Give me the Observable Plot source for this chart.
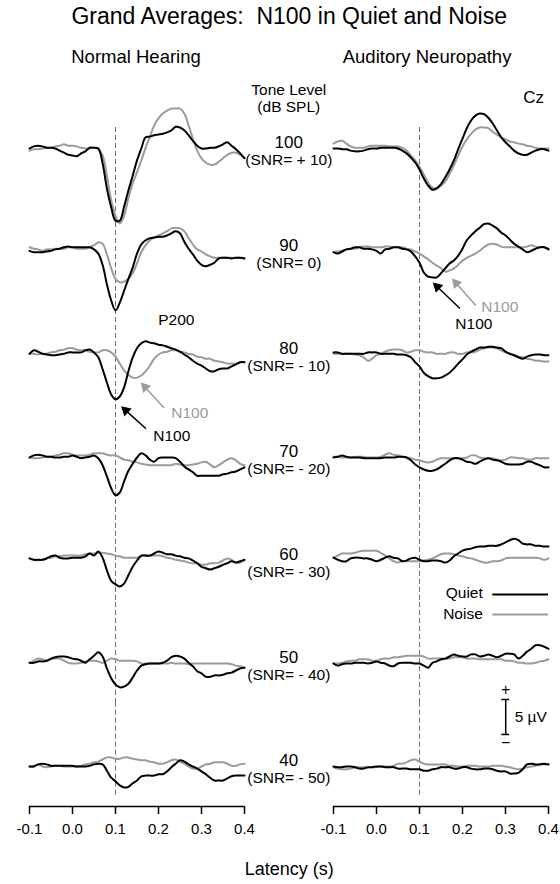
<!DOCTYPE html>
<html>
<head>
<meta charset="utf-8">
<script src="https://cdn.jsdelivr.net/npm/d3@7"></script>
<script src="https://cdn.jsdelivr.net/npm/@observablehq/plot@0.6"></script>
<style>
  body { margin: 0; background: #fff; }
  #chart svg { display: block; }
</style>
</head>
<body>
<div id="chart"></div>
<script>
// ---------- data ----------
const groupKeys = ["NH", "AN"];
const groupTitles = ["Normal Hearing", "Auditory Neuropathy"];
const levels = [100, 90, 80, 70, 60, 50, 40];
const snrLabels = ["(SNR= + 10)", "(SNR= 0)", "(SNR= - 10)", "(SNR= - 20)", "(SNR= - 30)", "(SNR= - 40)", "(SNR= - 50)"];
const xTicks = [-0.1, 0.0, 0.1, 0.2, 0.3, 0.4];
// sampling grid: -0.1 s to 0.4 s every 10 ms
const latency = d3.range(51).map(k => Math.round((-0.1 + k * 0.01) * 100) / 100);

// amplitudes in µV (negative = down), Normal Hearing
const nhQuiet100 = [0,0.3,0.4,0.3,0.1,0.1,0,-0.3,-0.6,-0.9,-1.0,-1.1,-0.7,-0.4,0.1,0.1,0,-2.1,-5.7,-8.4,-10.3,-10.3,-8.3,-6.0,-3.9,-1.7,0,1.6,1.7,1.9,2.0,2.1,2.3,2.6,3.1,3.0,2.6,1.9,1.1,0.4,0,0,0.1,0.1,0.3,0.6,0.9,0.4,-0.1,-0.7,-1.4];
const nhNoise100 = [-0.3,-0.1,-0.1,0,0.1,0.1,0.3,0.4,0.6,0.4,0.4,0.3,0.1,0,0,0.1,-0.1,-1.0,-3.9,-7.4,-9.6,-10.7,-9.6,-7.1,-5.0,-3.4,-1.7,0.1,1.7,3.3,4.3,5.0,5.4,5.7,5.7,5.7,5.0,3.3,1.4,-0.3,-1.4,-2.0,-2.3,-2.3,-1.9,-1.4,-0.9,-0.6,-0.6,-0.9,-1.3];
const nhQuiet90 = [0.1,-0.1,-0.1,-0.1,0,0.1,0.3,0.4,0.6,0.7,0.6,0.6,0.6,0.6,0.6,0.3,-0.3,-1.9,-4.7,-7.0,-8.4,-7.3,-5.6,-3.9,-2.3,-0.3,1.0,1.6,1.9,2.0,2.1,2.1,2.3,2.6,2.9,2.6,1.4,0.4,-0.4,-1.3,-1.9,-2.1,-1.9,-1.6,-1.0,-0.9,-0.9,-1.0,-0.9,-0.9,-1.0];
const nhNoise90 = [0.6,0.4,0.3,0.1,0.3,0.3,0.4,0.4,0.4,0.6,0.6,0.4,0.4,0.4,0.6,0.9,1.3,1.1,-0.4,-2.4,-3.9,-4.4,-4.3,-3.9,-3.1,-1.7,-0.1,0.9,1.6,2.0,2.3,2.6,2.9,3.3,3.4,3.3,2.9,1.9,1.0,0.3,0,-0.4,-0.7,-0.9,-0.9,-0.9,-0.9,-0.9,-0.9,-0.9,-1.0];
const nhQuiet80 = [0.1,0.6,0.4,0.1,0,-0.1,-0.1,0,0.1,0.3,0.3,0.3,0.3,0.6,0.7,0.3,-0.4,-2.1,-4.0,-5.7,-6.4,-6.0,-4.7,-2.4,-0.4,0.9,1.6,1.9,1.7,1.6,1.4,1.3,1.1,0.9,0.7,0.4,0,-0.4,-0.9,-1.3,-1.6,-2.0,-2.4,-2.4,-2.1,-2.0,-2.0,-1.7,-1.4,-1.1,-1.1];
const nhNoise80 = [0.1,0.1,0,0.1,0.1,0.3,0.4,0.6,0.7,0.9,0.9,0.7,0.6,0.6,0.4,0.3,0.3,0.6,0.6,0.3,-0.3,-1.3,-2.3,-2.9,-3.3,-3.3,-3.0,-2.4,-1.6,-0.6,0,0.3,0.4,0.6,0.6,0.4,0.3,0.1,0,-0.3,-0.4,-0.6,-0.6,-0.9,-1.0,-1.1,-1.3,-1.3,-1.3,-1.1,-1.1];
const nhQuiet70 = [0,0.3,0.4,0.3,0.1,0.1,0,0,0.1,0.1,0.3,0.1,-0.1,0,0.1,0.3,-0.1,-1.1,-2.7,-4.4,-5.4,-5.0,-3.4,-1.9,-0.9,0,0.6,0.3,-0.3,-0.6,-0.1,0,0,0,-0.1,-0.6,-1.3,-1.7,-2.1,-2.6,-2.6,-2.6,-2.6,-2.6,-2.6,-2.4,-2.3,-2.1,-2.0,-1.7,-1.4];
const nhNoise70 = [0,-0.1,-0.1,0,0.1,0.1,0.3,0.4,0.6,0.6,0.4,0.3,0.3,0.3,0.4,0.6,0.6,0.6,0.4,0.3,0.3,0,-0.3,-0.4,-0.6,-0.7,-0.9,-1.0,-1.1,-1.1,-1.1,-1.1,-1.1,-1.1,-0.9,-1.0,-1.1,-1.1,-1.0,-0.9,-0.7,-0.6,-1.0,-1.4,-1.1,-0.7,-0.3,-0.1,-0.4,-0.9,-1.1];
const nhQuiet60 = [0.3,0.1,0.1,0.1,0.3,0.6,0.7,0.4,0.3,0.3,0.4,0.4,0.4,0.6,1.0,0.7,1.3,0.4,-1.4,-2.9,-3.4,-3.7,-3.3,-2.1,-0.9,0,0.7,0.7,0.7,1.0,1.3,1.1,0.9,0.9,0.7,0.6,0.4,0.3,0,-0.4,-0.9,-1.1,-1.3,-1.1,-0.9,-0.6,-0.4,-0.1,-0.3,-0.1,0.1];
const nhNoise60 = [0.3,0.1,0,0.1,0.3,0.4,0.6,0.6,0.7,0.7,0.7,0.7,0.7,0.9,1.0,1.0,1.1,1.1,1.0,0.9,0.7,0.6,0.4,0.4,0.4,0.4,0.6,0.7,0.7,0.7,0.7,0.6,0.4,0.3,0.1,0,-0.1,-0.3,-0.4,-0.4,-0.6,-0.6,-0.4,-0.4,-0.3,0,0.3,0.1,-0.3,-0.3,0];
const nhQuiet50 = [0.1,0.1,0.3,0.3,0.4,0.7,0.9,1.0,1.0,0.9,0.7,0.6,0.4,0.1,0.6,1.1,1.6,1.0,-0.7,-2.1,-3.0,-3.4,-3.3,-2.9,-2.0,-1.0,-0.3,-0.1,0,0,0,0.1,0.4,0.9,1.1,1.0,0.7,0.1,-0.4,-1.1,-1.4,-1.9,-1.9,-1.7,-1.7,-1.6,-1.4,-1.3,-1.0,-0.7,-0.6];
const nhNoise50 = [0.1,0.4,0.7,0.6,0.4,0.6,0.7,0.7,0.4,0.1,0,0,0.1,0.3,0.4,0.4,0.3,0.1,0.4,0.7,0.6,0.4,0.4,0.4,0.4,0.3,0,0,0,0,0,0,0,0.1,0,0,0,-0.1,0,0,0,0,0,0,0,0,0,-0.1,-0.3,-0.4,-0.6];
const nhQuiet40 = [0,0,0.3,0.4,0.3,0.1,0.1,0.1,0.1,0.1,0.1,0,0,0,0.1,0.3,0.4,0.3,-0.6,-1.6,-2.1,-2.7,-3.0,-2.9,-2.4,-2.0,-1.4,-1.3,-1.3,-1.3,-1.1,-1.1,-0.7,-0.1,0.4,0.9,0.7,0.3,0,-0.3,-0.7,-1.1,-1.6,-2.0,-2.0,-2.0,-1.7,-1.4,-1.3,-1.3,-1.3];
const nhNoise40 = [0,0.1,0.3,0,-0.1,0,0.1,0.1,0,0,0,0,0.1,0.3,0.4,0.6,0.7,1.0,1.3,1.3,1.1,1.1,1.3,1.3,1.1,1.0,0.9,0.9,0.7,0.6,0.4,0.4,0.6,0.9,1.0,0.7,0.4,0,-0.3,-0.3,0,0.3,0.4,0.6,0.6,0.6,0.4,0.1,0.1,0.3,0.4];

// Auditory Neuropathy
const anQuiet100 = [0,0,-0.1,-0.1,-0.3,-0.4,-0.4,-0.3,-0.1,0,0,0.1,0.1,0.1,0.1,0,-0.3,-0.7,-1.3,-2.0,-3.0,-4.3,-5.3,-5.9,-5.7,-5.1,-4.1,-3.0,-1.7,-0.1,1.4,2.9,4.0,4.7,5.0,4.9,4.4,3.6,2.6,1.6,0.9,0.3,-0.3,-0.7,-0.9,-0.9,-0.6,-0.3,-0.1,-0.1,-0.3];
const anNoise100 = [0.7,1.0,1.1,0.7,0.3,0.1,0.1,0.1,0.3,0.4,0.4,0.4,0.4,0.3,0.3,0.3,0.1,-0.3,-1.0,-1.7,-2.6,-3.7,-4.9,-5.6,-5.7,-5.3,-4.7,-3.6,-2.4,-1.0,0.3,1.3,2.1,2.7,3.0,3.0,2.9,2.4,2.0,1.6,1.3,1.0,0.9,0.7,0.6,0.4,0.3,0.1,0,0,0];
const anQuiet90 = [-0.1,-0.3,0,0.3,0.4,0.6,0.6,0.4,0.4,0.3,0.1,-0.3,0.3,0.4,0.6,0.6,0.4,0.3,0,-0.7,-1.6,-3.0,-3.6,-3.7,-3.7,-3.1,-2.4,-1.7,-1.3,-0.6,0.4,1.6,2.3,2.9,3.4,3.9,4.0,3.7,3.3,2.7,2.3,1.7,1.1,0.7,0.3,-0.1,0.1,0.4,0.6,0.6,0.3];
const anNoise90 = [-0.1,0,0.1,0.3,0.4,0.4,0.6,0.7,0.7,0.6,0.6,0.6,0.7,0.7,0.6,0.6,0.6,0.4,0.3,0,-0.3,-0.7,-1.1,-1.6,-2.0,-2.4,-2.9,-2.7,-2.4,-1.9,-1.3,-0.9,-0.6,-0.3,0.1,0.6,1.0,1.1,1.0,0.7,0.6,0.6,0.6,0.6,0.6,0.7,0.9,0.7,0.6,0.6,0.4];
const anQuiet80 = [0.3,0.3,0.1,0.1,0.1,0.1,0.1,0.1,0.3,0.3,0.3,0.1,0.1,0.1,0.1,0,0,-0.1,-0.4,-1.1,-1.7,-2.6,-3.1,-3.4,-3.4,-3.3,-3.0,-2.6,-2.0,-1.3,-0.7,0,0.4,0.7,1.0,1.0,1.1,1.1,1.0,0.9,0.4,0.1,-0.1,-0.4,-0.6,-0.3,-0.1,0,0,-0.1,-0.1];
const anNoise80 = [0.1,0.1,0.1,0.1,0.1,0,-0.1,-0.4,-0.9,-0.6,-0.1,0.1,0.4,0.6,0.7,0.7,0.6,0.3,0.4,0.6,0.6,0.4,0.3,0.3,0.1,0.1,0.1,0.3,0.3,0.1,0.1,0.3,0.3,0.4,0.7,0.9,1.0,1.0,0.9,0.6,0.3,0.1,-0.1,-0.3,-0.4,-0.6,-0.7,-0.9,-0.9,-1.0,-1.0];
const anQuiet70 = [0,0.1,0.3,0.1,0,0,0,-0.1,-0.1,-0.1,-0.1,-0.1,0,0,0,0.1,0.1,0,-0.4,-1.0,-1.4,-1.7,-1.9,-1.9,-1.7,-1.3,-0.9,-0.4,-0.1,-0.1,-0.3,-0.6,-0.7,-0.9,-0.6,-0.3,-0.1,-0.3,-0.4,-0.6,-0.9,-1.0,-1.0,-1.0,-0.9,-0.6,-0.6,-0.9,-1.1,-1.4,-1.4];
const anNoise70 = [0.1,0.1,0,0,0,0.1,0.1,0.1,0,0,0,0.1,0.4,0.6,0.4,0.3,0.1,0,-0.1,-0.3,-0.4,-0.6,-0.7,-0.6,-0.3,-0.1,-0.1,-0.1,-0.1,-0.1,-0.1,0,0.3,0.3,0,-0.1,-0.1,-0.1,-0.3,-0.4,-0.3,0,0,-0.1,-0.1,-0.3,-0.3,-0.1,-0.1,-0.1,-0.1];
const anQuiet60 = [0.4,0.1,-0.1,-0.1,0.3,0.4,0.4,0.3,0.3,0.1,-0.1,0.1,0.4,0.6,0.4,0.3,-0.1,0,0.3,0.4,0.1,-0.1,-0.1,0,0,-0.1,-0.3,0,0.6,1.0,1.4,1.6,1.7,1.9,2.0,2.0,2.1,2.1,2.1,2.3,2.6,2.9,3.1,2.9,2.4,2.3,2.3,2.1,2.1,2.0,2.0];
const anNoise60 = [0.4,0.7,1.0,1.0,1.0,1.1,1.3,1.4,1.4,1.4,1.4,1.1,0.7,0.3,-0.1,-0.3,-0.1,-0.1,-0.1,-0.1,-0.1,0,0.1,0.3,0.6,0.9,1.0,1.0,0.9,0.7,0.6,0.4,0.3,0.1,-0.1,-0.3,-0.3,-0.1,-0.1,0,0.3,0.4,0.4,0.4,0.4,0.4,0.4,0.4,0.3,0.1,0.3];
const anQuiet50 = [0,-0.3,-0.1,0,0,0.1,0.1,0.1,0,0.1,0.3,0.1,0,-0.3,-0.4,0,0.1,0.1,0.1,0,0,-0.3,-0.6,0.1,0.3,0.6,0.7,1.0,1.3,1.1,1.0,1.0,1.3,1.3,1.0,1.1,1.3,1.1,0.9,1.1,1.4,1.4,1.3,0.7,1.1,1.7,2.1,2.6,2.6,2.4,2.1];
const anNoise50 = [0,0,0.1,0.3,0.4,0.4,0.6,0.6,0.6,0.4,0.4,0.6,0.7,0.7,0.9,0.9,1.0,1.1,1.1,1.1,1.1,1.0,0.7,0.7,0.7,0.7,0.7,0.7,0.9,0.9,0.9,0.7,0.7,0.7,0.6,0.6,0.6,0.6,0.6,0.6,0.4,0.4,0.3,0.1,0.1,0,0,0.1,0.3,0.4,0.6];
const anQuiet40 = [0,-0.1,-0.1,0,0,-0.1,-0.3,-0.3,-0.1,-0.1,0,0,-0.1,-0.1,-0.1,-0.3,-0.3,-0.3,-0.4,-0.4,-0.4,-0.6,-0.6,-0.4,-0.3,-0.1,-0.1,-0.1,-0.3,-0.3,-0.1,-0.1,-0.3,-0.4,-0.4,-0.3,-0.3,-0.4,-0.6,-0.7,-0.7,-1.0,-1.0,-0.9,-0.4,0.3,0.4,0.3,0.3,0.4,0.3];
const anNoise40 = [-0.1,-0.3,-0.4,-0.4,-0.3,-0.1,-0.1,-0.1,-0.1,-0.1,-0.1,0,0,0,0.1,0.4,0.4,0.6,0.9,1.0,0.7,0.4,0.3,0.3,0.3,0.3,0.3,0.1,0.1,0,0,0.1,0.1,0.1,0,0,0,0.1,0.1,0.1,0,-0.1,-0.3,-0.4,-0.3,-0.1,0,0.1,0.3,0.3,0.3];

// ---------- table built from the arrays ----------
const waveTable = [
  ["NH", 100, nhQuiet100, nhNoise100], ["NH", 90, nhQuiet90, nhNoise90], ["NH", 80, nhQuiet80, nhNoise80],
  ["NH", 70, nhQuiet70, nhNoise70], ["NH", 60, nhQuiet60, nhNoise60], ["NH", 50, nhQuiet50, nhNoise50],
  ["NH", 40, nhQuiet40, nhNoise40],
  ["AN", 100, anQuiet100, anNoise100], ["AN", 90, anQuiet90, anNoise90], ["AN", 80, anQuiet80, anNoise80],
  ["AN", 70, anQuiet70, anNoise70], ["AN", 60, anQuiet60, anNoise60], ["AN", 50, anQuiet50, anNoise50],
  ["AN", 40, anQuiet40, anNoise40]
];
const waves = waveTable.flatMap(([group, level, quiet, noise]) => [
  ...quiet.map((uv, k) => ({group, level, cond: "Quiet", t: latency[k], uv})),
  ...noise.map((uv, k) => ({group, level, cond: "Noise", t: latency[k], uv}))
]);

// ---------- plot ----------
const BLACK = "#000000";
const GRAY = "#9b9b9b";
const W = 560, H = 884, MT = 85, MB = 78, ML = 28, MR = 11;
const yDomain = [-40 / 7, 9];
const xDomain = [-0.1, 0.4];
const PANEL_W = 216;                         // px width of each panel
const ROW_H = (H - MT - MB) / levels.length;  // px height of each row
const PX_PER_S = PANEL_W / (xDomain[1] - xDomain[0]);
const PX_PER_UV = ROW_H / (yDomain[1] - yDomain[0]);

const cells = groupKeys.flatMap(group => levels.map(level => ({group, level})));
const bottomCells = groupKeys.map(group => ({group, level: 40}));
const firstRow = levels[0], lastRow = levels[levels.length - 1];

const texts = [
  {group: "NH", level: 100, x: 0.504, y: 18.8, text: "Grand Averages:\u00a0 N100 in Quiet and Noise", size: 23, fill: BLACK, anchor: "middle"},
  {group: "NH", level: 100, x: 0.1477, y: 13.1, text: groupTitles[0], size: 18.5, fill: BLACK, anchor: "middle"},
  {group: "AN", level: 100, x: 0.1176, y: 13.1, text: groupTitles[1], size: 18.5, fill: BLACK, anchor: "middle"},
  {group: "NH", level: 100, x: 0.503, y: 8.3, text: "Tone Level", size: 15.5, fill: BLACK, anchor: "middle"},
  {group: "NH", level: 100, x: 0.503, y: 5.9, text: "(dB SPL)", size: 15.5, fill: BLACK, anchor: "middle"},
  {group: "AN", level: 100, x: 0.3653, y: 7.3, text: "Cz", size: 17, fill: BLACK, anchor: "middle"},
  {group: "NH", level: 80, x: 0.2414, y: 4.86, text: "P200", size: 15.5, fill: BLACK, anchor: "middle"},
  {group: "NH", level: 80, x: 0.2727, y: -8.3, text: "N100", size: 15.5, fill: GRAY, anchor: "middle"},
  {group: "NH", level: 80, x: 0.231, y: -11.6, text: "N100", size: 15.5, fill: BLACK, anchor: "middle"},
  {group: "AN", level: 90, x: 0.2866, y: -8.0, text: "N100", size: 15.5, fill: GRAY, anchor: "middle"},
  {group: "AN", level: 90, x: 0.2264, y: -10.3, text: "N100", size: 15.5, fill: BLACK, anchor: "middle"},
  {group: "AN", level: 60, x: 0.2472, y: -4.71, text: "Quiet", size: 15.5, fill: BLACK, anchor: "end"},
  {group: "AN", level: 60, x: 0.2472, y: -7.71, text: "Noise", size: 15.5, fill: BLACK, anchor: "end"},
  {group: "AN", level: 50, x: 0.3213, y: -7.71, text: "5 \u00b5V", size: 15.5, fill: BLACK, anchor: "start"},
  {group: "AN", level: 50, x: 0.3005, y: -3.71, text: "+", size: 16, fill: BLACK, anchor: "middle"},
  {group: "AN", level: 50, x: 0.3005, y: -11.29, text: "\u2212", size: 16, fill: BLACK, anchor: "middle"},
  {group: "NH", level: 40, x: 0.504, y: -14.7, text: "Latency (s)", size: 18, fill: BLACK, anchor: "middle"}
];
const arrows = [
  {group: "NH", level: 80, x1: 0.2125, y1: -7.6, x2: 0.159, y2: -4.0, color: GRAY},
  {group: "NH", level: 80, x1: 0.171, y1: -10.6, x2: 0.113, y2: -7.4, color: BLACK},
  {group: "AN", level: 90, x1: 0.231, y1: -7.7, x2: 0.1755, y2: -3.86, color: GRAY},
  {group: "AN", level: 90, x1: 0.194, y1: -8.14, x2: 0.131, y2: -4.43, color: BLACK}
];
// filled triangular arrowheads: shaft stops at the head's base
const HEAD_BACK = 6.2, SHAFT_BACK = 8;
const arrowParts = arrows.map(a => {
  const dx = (a.x2 - a.x1) * PX_PER_S, dy = -(a.y2 - a.y1) * PX_PER_UV;
  const len = Math.hypot(dx, dy), ux = dx / len, uy = dy / len;
  return {
    ...a,
    hx: a.x2 - ux * HEAD_BACK / PX_PER_S, hy: a.y2 + uy * HEAD_BACK / PX_PER_UV,
    sx: a.x2 - ux * SHAFT_BACK / PX_PER_S, sy: a.y2 + uy * SHAFT_BACK / PX_PER_UV,
    rot: Math.atan2(dy, dx) * 180 / Math.PI + 90
  };
});
const legendLines = [
  {group: "AN", level: 60, y: -4.86, color: BLACK},
  {group: "AN", level: 60, y: -7.71, color: GRAY}
];
const scaleBar = [{group: "AN", level: 50, x: 0.3005, top: -5.14, bottom: -10.14}];
const scaleSerifs = [
  {group: "AN", level: 50, y: -5.14}, {group: "AN", level: 50, y: -10.14}
];

const textMarks = texts.map(d => Plot.text([d], {
  fx: "group", fy: "level", x: "x", y: "y", text: "text",
  fontSize: d.size, fill: d.fill, textAnchor: d.anchor, lineAnchor: "middle"
}));

const chart = Plot.plot({
  width: W,
  height: H,
  marginTop: MT,
  marginBottom: MB,
  marginLeft: ML,
  marginRight: MR,
  facet: {marginTop: 0, marginRight: 0, marginBottom: 0, marginLeft: 0},
  style: {fontFamily: "'Liberation Sans', Arial, Helvetica, sans-serif", fontSize: "15px", background: "#fff", color: "#000"},
  fx: {domain: groupKeys, paddingInner: 0.2918, paddingOuter: 0, axis: null},
  fy: {domain: levels, padding: 0, axis: null},
  x: {domain: xDomain},
  y: {domain: yDomain, axis: null},
  marks: [
    // +100 ms reference line
    Plot.ruleX(cells, {
      fx: "group", fy: "level", x: () => 0.1,
      y1: d => d.level === lastRow ? -4.1 : yDomain[0],
      y2: d => d.level === firstRow ? 3 : yDomain[1],
      stroke: "#6e6e6e", strokeWidth: 1, strokeDasharray: "5,3"
    }),
    Plot.line(waves.filter(d => d.cond === "Noise"), {
      fx: "group", fy: "level", x: "t", y: "uv", stroke: GRAY, strokeWidth: 2, curve: "catmull-rom"
    }),
    Plot.line(waves.filter(d => d.cond === "Quiet"), {
      fx: "group", fy: "level", x: "t", y: "uv", stroke: BLACK, strokeWidth: 2, curve: "catmull-rom"
    }),
    // x axis line + ticks on the bottom row
    Plot.ruleY(bottomCells, {fx: "group", fy: "level", y: () => yDomain[0], stroke: BLACK, strokeWidth: 1.5}),
    Plot.axisX({ticks: xTicks, tickFormat: d => d.toFixed(1), tickSize: 8, tickPadding: 9, fontSize: 15, label: null, strokeWidth: 1.5}),
    // row labels
    Plot.text(levels, {fx: () => "NH", fy: d => d, x: () => 0.503, y: () => 0.9, text: d => String(d), fontSize: 17, lineAnchor: "middle"}),
    Plot.text(levels, {fx: () => "NH", fy: d => d, x: () => 0.503, y: () => -1.7, text: (d, i) => snrLabels[i], fontSize: 15.5, lineAnchor: "middle"}),
    // arrows: shaft + filled head
    Plot.link(arrowParts, {fx: "group", fy: "level", x1: "x1", y1: "y1", x2: "sx", y2: "sy", stroke: "color", strokeWidth: 1.5}),
    Plot.dot(arrowParts, {fx: "group", fy: "level", x: "hx", y: "hy", symbol: "triangle", r: 4, fill: "color", stroke: null, rotate: "rot"}),
    // legend
    Plot.ruleY(legendLines, {fx: "group", fy: "level", y: "y", x1: () => 0.2704, x2: () => 0.4, stroke: "color", strokeWidth: 2}),
    // scale bar (5 µV)
    Plot.ruleX(scaleBar, {fx: "group", fy: "level", x: "x", y1: "top", y2: "bottom", stroke: BLACK, strokeWidth: 1.5}),
    Plot.ruleY(scaleSerifs, {fx: "group", fy: "level", y: "y", x1: () => 0.2912, x2: () => 0.3098, stroke: BLACK, strokeWidth: 1.5}),
    ...textMarks
  ]
});
document.getElementById("chart").append(chart);
</script>
</body>
</html>
